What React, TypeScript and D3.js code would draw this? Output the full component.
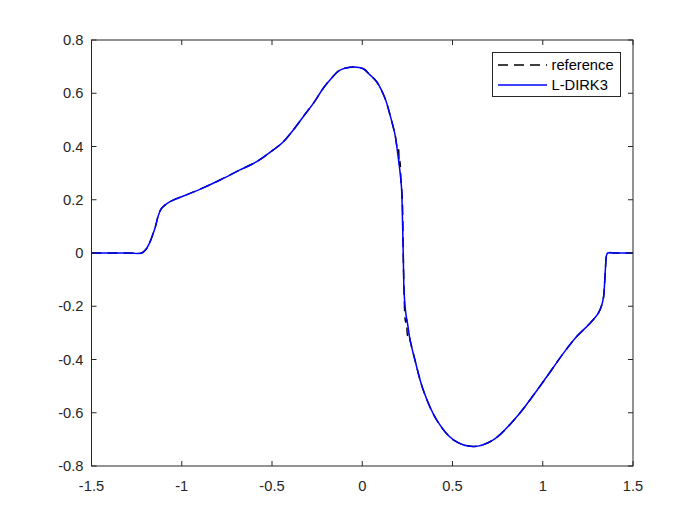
import React from "react";
import * as d3 from "d3";

// L-DIRK3 solution
const xs = [-1.5, -1.3, -1.222, -1.2, -1.18, -1.16, -1.148, -1.13, -1.115, -1.1, -1.065, -0.954, -0.9, -0.788, -0.678, -0.585, -0.493, -0.437, -0.382, -0.327, -0.271, -0.216, -0.179, -0.123, -0.05, 0.006, 0.043, 0.08, 0.126, 0.154, 0.182, 0.196, 0.21, 0.218, 0.222, 0.227, 0.232, 0.241, 0.252, 0.265, 0.292, 0.338, 0.412, 0.505, 0.615, 0.726, 0.856, 0.929, 1.022, 1.114, 1.188, 1.262, 1.308, 1.327, 1.337, 1.343, 1.348, 1.353, 1.36, 1.4, 1.5];
const ys = [0, 0, 0, 0.012, 0.035, 0.07, 0.094, 0.14, 0.165, 0.176, 0.193, 0.224, 0.239, 0.274, 0.312, 0.343, 0.387, 0.418, 0.462, 0.512, 0.562, 0.619, 0.65, 0.687, 0.699, 0.692, 0.669, 0.643, 0.581, 0.518, 0.443, 0.376, 0.3, 0.24, 0.15, 0, -0.15, -0.225, -0.27, -0.327, -0.402, -0.515, -0.627, -0.702, -0.727, -0.702, -0.615, -0.552, -0.465, -0.377, -0.314, -0.264, -0.226, -0.195, -0.165, -0.11, -0.05, -0.01, 0, 0, 0];

// reference solution differs only near the shock (small oscillations)
const refShockX = [0.182, 0.196, 0.2, 0.205, 0.209, 0.214, 0.222, 0.227, 0.232, 0.237, 0.241, 0.246, 0.25, 0.256, 0.265];
const refShockY = [0.443, 0.39, 0.395, 0.33, 0.345, 0.28, 0.2, 0, -0.15, -0.245, -0.26, -0.25, -0.31, -0.3, -0.327];

const xTicks = [-1.5, -1, -0.5, 0, 0.5, 1, 1.5];
const xTickLabels = ["-1.5", "-1", "-0.5", "0", "0.5", "1", "1.5"];
const yTicks = [-0.8, -0.6, -0.4, -0.2, 0, 0.2, 0.4, 0.6, 0.8];
const yTickLabels = ["-0.8", "-0.6", "-0.4", "-0.2", "0", "0.2", "0.4", "0.6", "0.8"];
const seriesNames = ["reference", "L-DIRK3"];

export default function App() {
  const W = 700, H = 525;
  const left = 91.5, right = 633, top = 40, bottom = 466;
  const x = d3.scaleLinear().domain([-1.5, 1.5]).range([left, right]);
  const y = d3.scaleLinear().domain([-0.8, 0.8]).range([bottom, top]);

  const main: [number, number][] = xs.map((v, i) => [v, ys[i]]);
  const lo = refShockX[0], hi = refShockX[refShockX.length - 1];
  const ref: [number, number][] = [
    ...main.filter((p) => p[0] < lo),
    ...refShockX.map((v, i) => [v, refShockY[i]] as [number, number]),
    ...main.filter((p) => p[0] > hi),
  ];

  const line = d3
    .line<[number, number]>()
    .x((d) => x(d[0]))
    .y((d) => y(d[1]))
    .curve(d3.curveCatmullRom.alpha(0.5));

  const axisColor = "#262626";
  const font = "'Liberation Sans', Arial, Helvetica, sans-serif";
  const tl = 5;

  return (
    <svg width={W} height={H} style={{ position: "absolute", left: 0, top: 0, background: "#fff" }} fontFamily={font}>
      <rect x={0} y={0} width={W} height={H} fill="#fff" />
      <defs>
        <clipPath id="plotclip">
          <rect x={left} y={top} width={right - left} height={bottom - top} />
        </clipPath>
      </defs>
      <g clipPath="url(#plotclip)">
        <path d={line(ref) || ""} fill="none" stroke="#000" strokeWidth={1.5} strokeDasharray="10,6" />
        <path d={line(main) || ""} fill="none" stroke="#0000ff" strokeWidth={1.5} />
      </g>
      {/* box */}
      <rect x={left} y={top} width={right - left} height={bottom - top} fill="none" stroke={axisColor} strokeWidth={1} />
      {/* x ticks */}
      {xTicks.map((t, i) => (
        <g key={"xt" + i}>
          <line x1={x(t)} x2={x(t)} y1={bottom} y2={bottom - tl} stroke={axisColor} />
          <line x1={x(t)} x2={x(t)} y1={top} y2={top + tl} stroke={axisColor} />
          <text x={x(t)} y={bottom + 25} textAnchor="middle" fontSize={14.7} fill={axisColor}>
            {xTickLabels[i]}
          </text>
        </g>
      ))}
      {yTicks.map((t, i) => (
        <g key={"yt" + i}>
          <line x1={left} x2={left + tl} y1={y(t)} y2={y(t)} stroke={axisColor} />
          <line x1={right} x2={right - tl} y1={y(t)} y2={y(t)} stroke={axisColor} />
          <text x={left - 8} y={y(t) + 5} textAnchor="end" fontSize={14.7} fill={axisColor}>
            {yTickLabels[i]}
          </text>
        </g>
      ))}
      {/* legend */}
      <g>
        <rect x={492.5} y={52.5} width={128} height={44} fill="#fff" stroke={axisColor} strokeWidth={1} />
        <line x1={498} x2={547} y1={65} y2={65} stroke="#000" strokeWidth={1.5} strokeDasharray="10,6" />
        <text x={551.5} y={70} fontSize={14.7} fill="#000">{seriesNames[0]}</text>
        <line x1={498} x2={547} y1={85} y2={85} stroke="#0000ff" strokeWidth={1.5} />
        <text x={551.5} y={90} fontSize={14.7} fill="#000">{seriesNames[1]}</text>
      </g>
    </svg>
  );
}
